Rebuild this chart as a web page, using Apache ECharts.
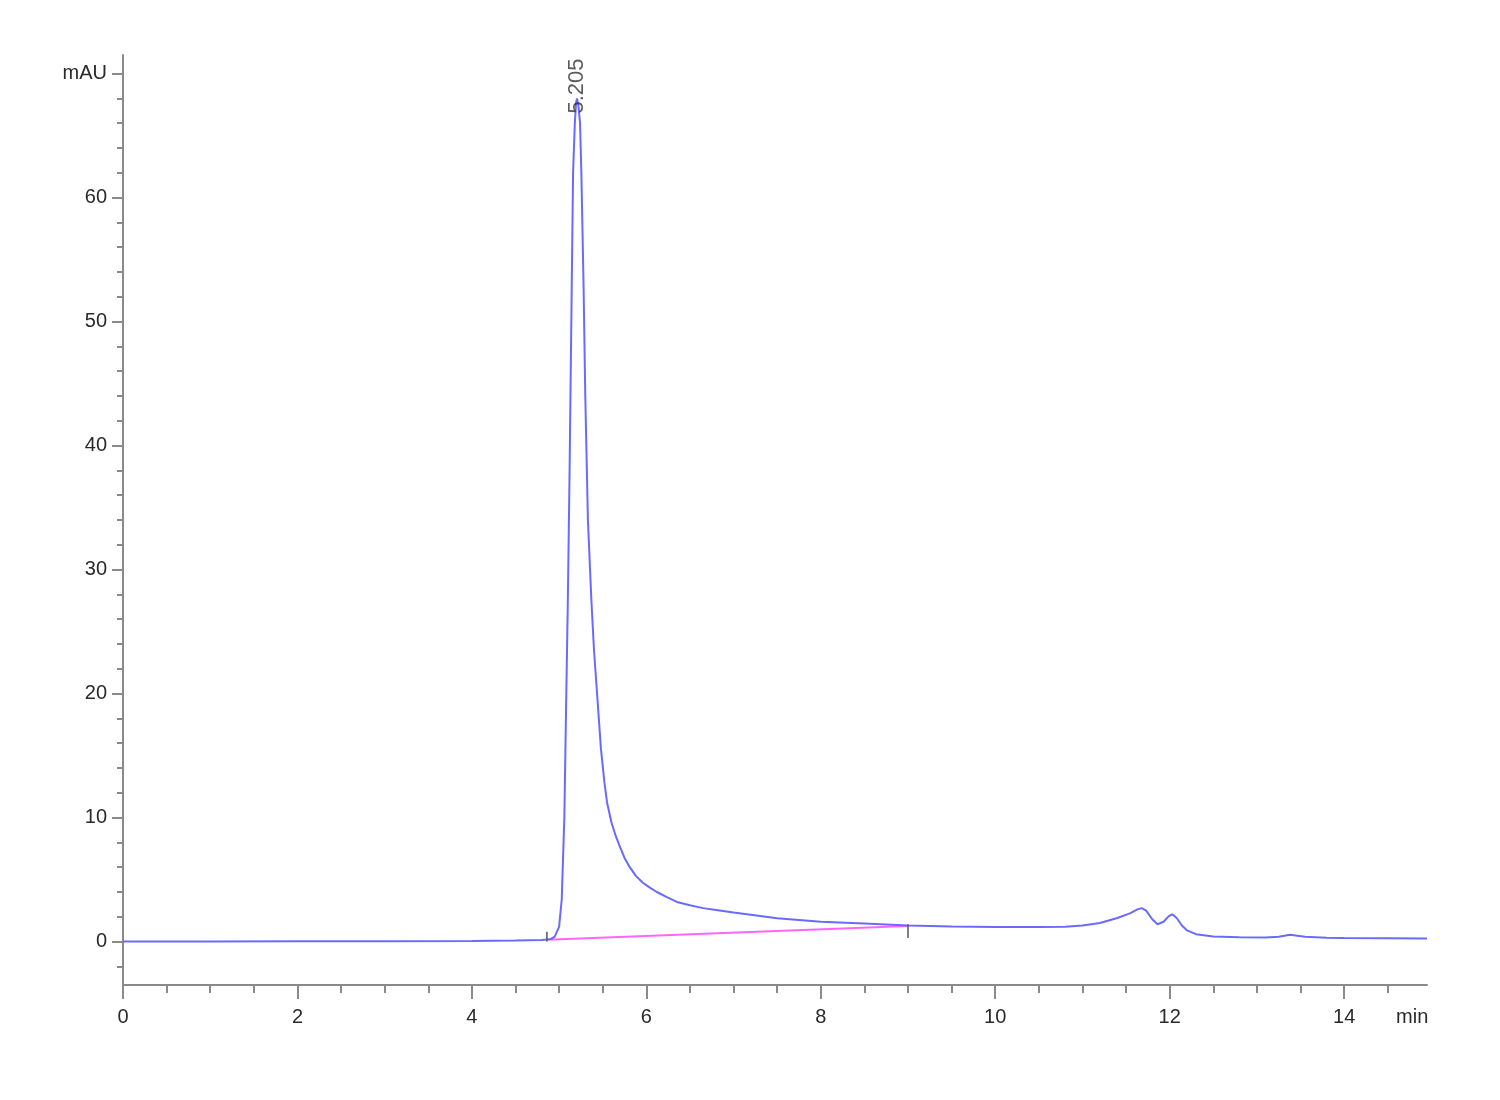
<!DOCTYPE html>
<html>
<head>
<meta charset="utf-8">
<script src="https://cdn.jsdelivr.net/npm/echarts@6/dist/echarts.min.js"></script>
<style>html,body{margin:0;padding:0;background:#fff}#c{width:1500px;height:1100px}</style>
</head>
<body>
<div id="c"></div>
<script>
// Retention time (min) and absorbance (mAU)
const timeMin = [0, 1, 2, 3, 4, 4.5, 4.8, 4.9, 4.95, 5.0, 5.03, 5.06, 5.08, 5.10, 5.12, 5.14, 5.16, 5.18, 5.195, 5.205,
  5.22, 5.24, 5.255, 5.28, 5.30, 5.33, 5.37, 5.40, 5.44, 5.48, 5.52, 5.55, 5.60, 5.65, 5.70, 5.75, 5.81, 5.88, 5.96,
  6.04, 6.12, 6.23, 6.35, 6.5, 6.65, 6.8, 7.0, 7.5, 8.0, 8.5, 9.0, 9.5, 10.0, 10.5, 10.8, 11.0, 11.2, 11.4, 11.55, 11.63, 11.68,
  11.73, 11.8, 11.86, 11.93, 11.99, 12.03, 12.08, 12.14, 12.2, 12.3, 12.5, 12.8, 13.1, 13.25, 13.38, 13.55, 13.8, 14.0, 14.5, 14.95];
const signal = [0.0, 0.0, 0.02, 0.03, 0.05, 0.08, 0.12, 0.2, 0.4, 1.2, 3.4, 10, 19, 27.5, 38, 50, 62, 66, 67.7, 68,
  67.5, 66, 62, 53, 44, 34, 27.5, 23.5, 19.5, 15.5, 12.8, 11.2, 9.6, 8.5, 7.6, 6.75, 6.0, 5.3, 4.75,
  4.35, 4.0, 3.6, 3.2, 2.93, 2.7, 2.55, 2.35, 1.88, 1.6, 1.45, 1.3, 1.22, 1.18, 1.18, 1.2, 1.3, 1.5, 1.9, 2.3, 2.6, 2.7,
  2.5, 1.8, 1.4, 1.6, 2.05, 2.2, 1.9, 1.3, 0.9, 0.6, 0.42, 0.36, 0.33, 0.4, 0.55, 0.4, 0.32, 0.3, 0.28, 0.25];
// Integration baseline (start, end)
const baseTime = [4.86, 9.0];
const baseValue = [0.15, 1.25];
// Baseline event marks
const markStart = [[4.86, 0.0], [4.86, 0.8]];
const markEnd = [[9.0, 0.3], [9.0, 1.4]];
// Peak annotation
const peakLabel = '5.205';
const peakLabelPos = [5.205, 69.0];
// Axis ticks
const xMajor = [0, 2, 4, 6, 8, 10, 12, 14];
const xMinor = [0.5, 1, 1.5, 2.5, 3, 3.5, 4.5, 5, 5.5, 6.5, 7, 7.5, 8.5, 9, 9.5, 10.5, 11, 11.5, 12.5, 13, 13.5, 14.5];
const xUnitPos = 14.78, xUnit = 'min';
const yMajor = [0, 10, 20, 30, 40, 50, 60, 70];
const yMinor = [-2, 2, 4, 6, 8, 12, 14, 16, 18, 22, 24, 26, 28, 32, 34, 36, 38, 42, 44, 46, 48, 52, 54, 56, 58, 62, 64, 66, 68];
const yUnit = 'mAU';

const chart = echarts.init(document.getElementById('c'), null, {renderer: 'canvas'});
const FONT = 'Liberation Sans, Arial, sans-serif';
const AX = '#8a8a8a';
const lbl = {color: '#2a2a2a', fontSize: 20, fontFamily: FONT};

const sigData = timeMin.map((t, i) => [t, signal[i]]);
const baseData = baseTime.map((t, i) => [t, baseValue[i]]);

chart.setOption({
  animation: false,
  backgroundColor: '#fff',
  grid: {left: 123, right: 73, top: 55, bottom: 115, containLabel: false},
  xAxis: [
    {type: 'value', min: 0, max: 14.95, position: 'bottom',
     axisLine: {show: true, onZero: false, lineStyle: {color: AX, width: 2}},
     axisTick: {show: true, customValues: xMajor, length: 14, lineStyle: {color: AX, width: 2}},
     axisLabel: Object.assign({show: true, margin: 22, hideOverlap: false,
       customValues: xMajor.concat([xUnitPos]),
       formatter: v => (Math.abs(v - xUnitPos) < 1e-6 ? xUnit : String(v))}, lbl),
     splitLine: {show: false}},
    {type: 'value', min: 0, max: 14.95, position: 'bottom',
     axisLine: {show: false, onZero: false},
     axisTick: {show: true, customValues: xMinor, length: 8, lineStyle: {color: AX, width: 2}},
     axisLabel: {show: false}, splitLine: {show: false}}
  ],
  yAxis: [
    {type: 'value', min: -3.5, max: 71.5, position: 'left',
     axisLine: {show: true, onZero: false, lineStyle: {color: AX, width: 2}},
     axisTick: {show: true, customValues: yMajor, length: 11, lineStyle: {color: AX, width: 2}},
     axisLabel: Object.assign({show: true, margin: 16, hideOverlap: false,
       customValues: yMajor,
       formatter: v => (v === 70 ? yUnit : String(v))}, lbl),
     splitLine: {show: false}},
    {type: 'value', min: -3.5, max: 71.5, position: 'left',
     axisLine: {show: false, onZero: false},
     axisTick: {show: true, customValues: yMinor, length: 6, lineStyle: {color: AX, width: 2}},
     axisLabel: {show: false}, splitLine: {show: false}}
  ],
  series: [
    {type: 'line', name: 'baseline', data: baseData, showSymbol: false, symbol: 'none',
     lineStyle: {color: '#ff66ff', width: 2}, z: 3},
    {type: 'line', name: 'signal', data: sigData, showSymbol: false, symbol: 'none',
     lineStyle: {color: '#6a6aff', width: 2}, z: 4},
    {type: 'line', data: markStart, symbol: 'none', lineStyle: {color: '#555', width: 1.5}, z: 5},
    {type: 'line', data: markEnd, symbol: 'none', lineStyle: {color: '#555', width: 1.5}, z: 5},
    {type: 'scatter', data: [peakLabelPos], symbolSize: 0, z: 6,
     label: {show: true, position: 'inside', rotate: 90, formatter: peakLabel,
       color: '#333', fontSize: 22, fontFamily: FONT, align: 'center', verticalAlign: 'middle'}}
  ]
});
</script>
</body>
</html>
